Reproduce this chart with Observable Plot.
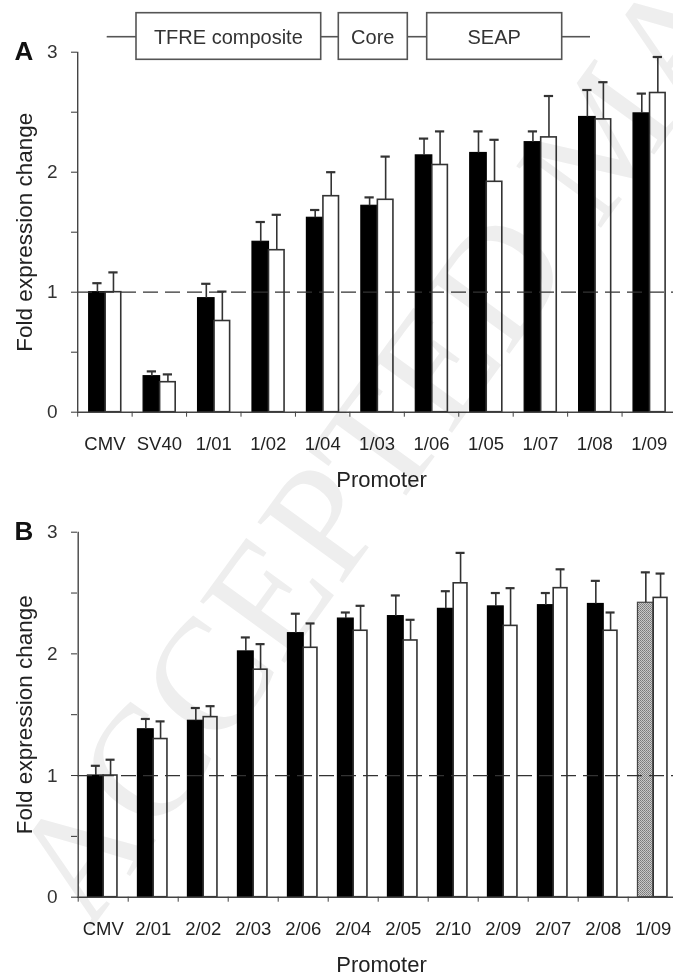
<!DOCTYPE html>
<html><head><meta charset="utf-8">
<script src="https://cdn.jsdelivr.net/npm/d3@7"></script>
<script src="https://cdn.jsdelivr.net/npm/@observablehq/plot@0.6"></script>
<style>
body{margin:0;background:#fff;}
#wrap{position:relative;width:673px;height:979px;overflow:hidden;background:#fff;font-family:"Liberation Sans",Arial,sans-serif;}
#wrap > svg{position:absolute;left:0;}
</style></head><body><div id="wrap"></div>
<script>
// ---------- data ----------
const categoriesA = ["CMV","SV40","1/01","1/02","1/04","1/03","1/06","1/05","1/07","1/08","1/09"];
const blackA    = [1.00,0.30,0.95,1.42,1.62,1.72,2.14,2.16,2.25,2.46,2.49];
const blackErrA = [0.075,0.04,0.12,0.165,0.065,0.07,0.14,0.18,0.09,0.225,0.165];
const whiteA    = [1.00,0.25,0.76,1.35,1.80,1.77,2.06,1.92,2.29,2.44,2.66];
const whiteErrA = [0.165,0.065,0.245,0.295,0.20,0.36,0.28,0.35,0.345,0.31,0.30];

const categoriesB = ["CMV","2/01","2/02","2/03","2/06","2/04","2/05","2/10","2/09","2/07","2/08","1/09"];
const blackB    = [1.00,1.38,1.45,2.02,2.17,2.29,2.31,2.37,2.39,2.40,2.41,2.42];
const blackErrB = [0.08,0.085,0.105,0.115,0.16,0.05,0.17,0.145,0.11,0.10,0.19,0.25];
const whiteB    = [1.00,1.30,1.48,1.87,2.05,2.19,2.11,2.58,2.23,2.54,2.19,2.46];
const whiteErrB = [0.13,0.145,0.09,0.21,0.20,0.205,0.17,0.25,0.31,0.155,0.15,0.20];
const grayCategoryB = "1/09"; // reference promoter shown with stippled bar in panel B

const yTicks = [0,0.5,1,1.5,2,2.5,3];
const yLabel = "Fold expression change";
const xLabel = "Promoter";
const diagramLabels = ["TFRE composite","Core","SEAP"];
const watermark = "ACCEPTED MANUSCRIPT";

const FONT = "Liberation Sans, Arial, sans-serif";
const wrap = document.getElementById("wrap");

function panel({cats, black, blackErr, white, whiteErr, grayCat, letter, height, marginTop, marginBottom, xRange, b0, b1, w0, w1, capHalf}) {
  const rows = cats.map((c, i) => ({i, c, black: black[i], be: blackErr[i], white: white[i], we: whiteErr[i], gray: c === grayCat && i > 0}));
  const bc = (b0 + b1) / 2, wc = (w0 + w1) / 2;
  const defs = () => {
    const ns = "http://www.w3.org/2000/svg";
    const d = document.createElementNS(ns, "defs");
    d.innerHTML = `<pattern id="stip" width="2" height="2" patternUnits="userSpaceOnUse">
      <rect width="2" height="2" fill="#c8c8c8"/><rect width="1" height="1" fill="#7a7a7a"/><rect x="1" y="1" width="1" height="1" fill="#8a8a8a"/></pattern>`;
    return d;
  };
  return Plot.plot({
    width: 673, height, marginTop, marginBottom, marginLeft: 77, marginRight: 0,
    style: {fontFamily: FONT, fontSize: "19px", color: "#222", background: "transparent", overflow: "visible"},
    x: {domain: [0, cats.length], range: xRange},
    y: {domain: [0, 3]},
    marks: [
      defs,
      Plot.rectY(rows, {x1: d => d.i + b0, x2: d => d.i + b1, y1: 0, y2: "black",
        fill: d => d.gray ? "url(#stip)" : "#000", stroke: d => d.gray ? "#444" : "#000", strokeWidth: 1.2}),
      Plot.rectY(rows, {x1: d => d.i + w0, x2: d => d.i + w1, y1: 0, y2: "white", fill: "#fff", stroke: "#333", strokeWidth: 1.6}),
      Plot.ruleX(rows, {x: d => d.i + bc, y1: "black", y2: d => d.black + d.be, stroke: "#333", strokeWidth: 1.6}),
      Plot.ruleY(rows, {y: d => d.black + d.be, x1: d => d.i + bc - capHalf, x2: d => d.i + bc + capHalf, stroke: "#333", strokeWidth: 2.2}),
      Plot.ruleX(rows, {x: d => d.i + wc, y1: "white", y2: d => d.white + d.we, stroke: "#333", strokeWidth: 1.6}),
      Plot.ruleY(rows, {y: d => d.white + d.we, x1: d => d.i + wc - capHalf, x2: d => d.i + wc + capHalf, stroke: "#333", strokeWidth: 2.2}),
      Plot.ruleY([1], {stroke: "#333", strokeWidth: 1.3, strokeDasharray: "15,7"}),
      Plot.ruleY([0], {stroke: "#444", strokeWidth: 1.4}),
      Plot.ruleX([0], {y1: 0, y2: 3, stroke: "#444", strokeWidth: 1.4}),
      Plot.axisY({ticks: yTicks, tickSize: 6, tickPadding: 14, tickFormat: d => Number.isInteger(d) ? String(d) : "", fontSize: 19, color: "#333", label: null}),
      Plot.axisX({ticks: d3.range(0, cats.length + 1), tickSize: 5, tickFormat: () => "", color: "#444", label: null}),
      Plot.axisX({ticks: cats.map((c, i) => i + 0.5), tickSize: 0, tickPadding: 24.5, tickFormat: v => cats[Math.floor(v)], fontSize: 18.5, color: "#222", label: null}),
      Plot.text([yLabel], {text: d => d, frameAnchor: "left", textAnchor: "middle", lineAnchor: "middle", dx: -53, rotate: -90, fontSize: 22.5, fill: "#222"}),
      Plot.text([xLabel], {text: d => d, frameAnchor: "bottom", textAnchor: "middle", lineAnchor: "middle", dx: 6, dy: 68, fontSize: 22, fill: "#222"}),
      Plot.text([letter], {text: d => d, frameAnchor: "top-left", textAnchor: "start", lineAnchor: "middle", dx: -63, dy: -1, fontSize: 26, fontWeight: "bold", fill: "#111"})
    ]
  });
}

const A = panel({cats: categoriesA, black: blackA, blackErr: blackErrA, white: whiteA, whiteErr: whiteErrA, grayCat: null, letter: "A",
  height: 500, marginTop: 51.7, marginBottom: 88.3, xRange: [77.2, 676], b0: 0.211, b1: 0.514, w0: 0.514, w1: 0.80, capHalf: 0.085});
A.style.top = "0px";
wrap.appendChild(A);

const B = panel({cats: categoriesB, black: blackB, blackErr: blackErrB, white: whiteB, whiteErr: whiteErrB, grayCat: grayCategoryB, letter: "B",
  height: 479, marginTop: 31.7, marginBottom: 82.3, xRange: [77.7, 677.7], b0: 0.195, b1: 0.51, w0: 0.51, w1: 0.785, capHalf: 0.09});
B.style.top = "500px";
wrap.appendChild(B);

// ---------- construct diagram (decoration above panel A) ----------
const dg = d3.create("svg").attr("width", 673).attr("height", 70).style("top", "0px");
const boxes = [[136, 320.7], [338.3, 407.3], [426.7, 561.7]];
const lineY = 36.7;
const segs = [[106.7, 136], [320.7, 338.3], [407.3, 426.7], [561.7, 590]];
dg.selectAll("line").data(segs).join("line")
  .attr("x1", d => d[0]).attr("x2", d => d[1]).attr("y1", lineY).attr("y2", lineY)
  .attr("stroke", "#555").attr("stroke-width", 1.6);
dg.selectAll("rect").data(boxes).join("rect")
  .attr("x", d => d[0]).attr("y", 12.7).attr("width", d => d[1] - d[0]).attr("height", 46.6)
  .attr("fill", "#fff").attr("stroke", "#555").attr("stroke-width", 1.6);
dg.selectAll("text").data(boxes).join("text")
  .attr("x", d => (d[0] + d[1]) / 2).attr("y", lineY).attr("dy", "0.35em")
  .attr("text-anchor", "middle").attr("font-family", FONT).attr("font-size", 20).attr("fill", "#333")
  .text((d, i) => diagramLabels[i]);
wrap.appendChild(dg.node());

// ---------- watermark ----------
const wm = d3.create("svg").attr("width", 673).attr("height", 979).style("top", "0px")
  .style("mix-blend-mode", "multiply").style("pointer-events", "none");
wm.append("text").attr("transform", "translate(88.7,932.8) rotate(-54)")
  .attr("font-family", "Liberation Serif, DejaVu Serif, serif").attr("font-size", 160)
  .attr("fill", "#eeeeee").text(watermark);
wrap.appendChild(wm.node());
</script></body></html>
